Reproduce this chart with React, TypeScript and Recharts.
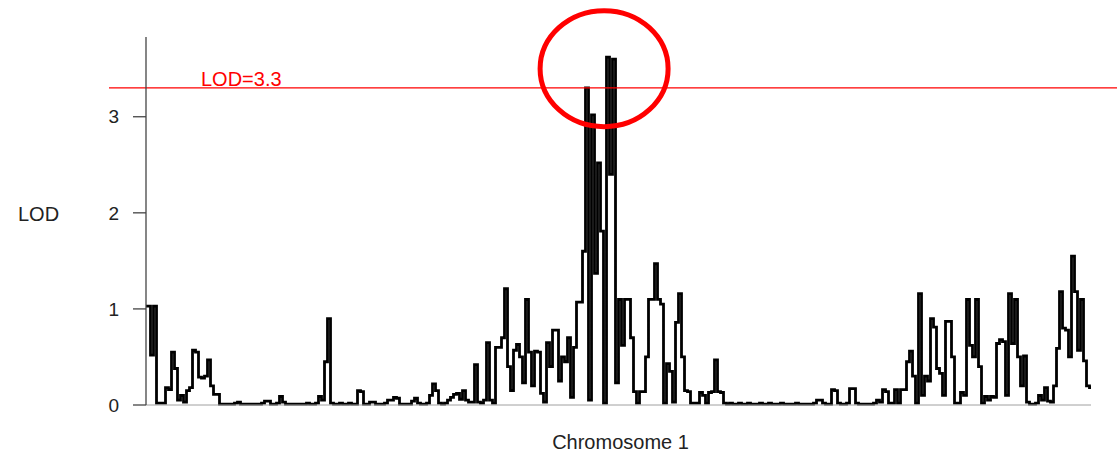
import { Line, LineChart, ReferenceDot, ReferenceLine, XAxis, YAxis } from "recharts";

// LOD profile along chromosome 1, one value per marker step
const lodStart = [
  1.03, 1.03, 0.52, 1.03, 0.02, 0.02, 0.02, 0.18, 0.16, 0.55,
  0.38, 0.05, 0.1, 0.03, 0.15, 0.18, 0.57, 0.55, 0.29, 0.28,
  0.3, 0.47, 0.2, 0.11, 0.11, 0.01, 0.01, 0.01, 0.01, 0.01,
  0.02, 0.03, 0.01, 0.01, 0.01, 0.01, 0.01, 0.01, 0.01, 0.02,
  0.04, 0.04, 0.01, 0.01, 0.02, 0.09, 0.03, 0.01, 0.01, 0.01,
  0.01, 0.01, 0.01, 0.01, 0.02, 0.01, 0.01, 0.02, 0.09, 0.05,
  0.45, 0.9, 0.02, 0.01, 0.01, 0.02, 0.01, 0.01, 0.02, 0.01,
  0.01, 0.15, 0.14, 0.01, 0.01, 0.03, 0.03, 0.01, 0.01, 0.01,
  0.02, 0.05, 0.05, 0.08, 0.07, 0.01, 0.01, 0.01, 0.01, 0.04,
  0.07, 0.02, 0.01, 0.01, 0.02, 0.1, 0.22, 0.15, 0.02, 0.01,
];

const lodPeak = [
  0.02, 0.05, 0.08, 0.11, 0.12, 0.06, 0.15, 0.05, 0.03, 0.03,
  0.42, 0.03, 0.02, 0.05, 0.65, 0.05, 0.02, 0.6, 0.6, 0.7,
  1.21, 0.4, 0.15, 0.57, 0.63, 0.5, 0.23, 1.1, 0.55, 0.2,
  0.56, 0.55, 0.12, 0.03, 0.65, 0.4, 0.78, 0.78, 0.25, 0.5,
  0.45, 0.7, 0.08, 0.6, 1.07, 1.07, 1.6, 3.3, 0.05, 3.02,
  1.37, 2.52, 1.81, 0.02, 3.62, 2.4, 3.6, 0.23, 1.1, 0.62,
  1.1, 1.1, 0.7, 0.14, 0.02, 0.14, 0.14, 0.5, 1.1, 1.1,
  1.47, 1.1, 1.05, 0.02, 0.43, 0.35, 0.03, 0.86, 1.16, 0.5,
  0.15, 0.14, 0.02, 0.02, 0.02, 0.13, 0.1, 0.02, 0.13, 0.14,
  0.47, 0.14, 0.13, 0.02, 0.01, 0.02, 0.01, 0.01, 0.02, 0.01,
];

const lodFlat = [
  0.01, 0.02, 0.01, 0.01, 0.01, 0.02, 0.01, 0.01, 0.02, 0.01,
  0.01, 0.01, 0.02, 0.01, 0.01, 0.01, 0.01, 0.02, 0.01, 0.01,
  0.01, 0.01, 0.01, 0.02, 0.05, 0.05, 0.02, 0.01, 0.01, 0.16,
  0.15, 0.02, 0.01, 0.01, 0.02, 0.17, 0.17, 0.02, 0.01, 0.01,
  0.01, 0.01, 0.01, 0.02, 0.05, 0.03, 0.16, 0.14, 0.02, 0.02,
];

const lodEnd = [
  0.16, 0.02, 0.16, 0.16, 0.45, 0.56, 0.3, 0.02, 1.16, 0.1,
  0.3, 0.25, 0.9, 0.81, 0.38, 0.33, 0.1, 0.87, 0.87, 0.5,
  0.02, 0.02, 0.13, 0.1, 1.1, 0.62, 0.5, 1.1, 0.4, 0.02,
  0.09, 0.05, 0.09, 0.08, 0.64, 0.68, 0.66, 0.1, 1.16, 0.64,
  1.1, 0.5, 0.2, 0.51, 0.03, 0.01, 0.01, 0.02, 0.1, 0.05,
  0.18, 0.04, 0.03, 0.2, 0.59, 1.18, 0.8, 0.78, 0.5, 1.55,
  1.18, 0.57, 1.1, 0.46, 0.2, 0.18,
];

const yTicks = [0, 1, 2, 3];
const threshold = 3.3;
const thresholdLabel = "LOD=3.3";
// highlighted QTL region (marker index, LOD)
const peakMarker = 152.7;
const peakLod = 3.5;

const lod = [...lodStart, ...lodPeak, ...lodFlat, ...lodEnd];
const data = lod.map((v, i) => ({ marker: i, lod: v }));

const FONT = "'Liberation Sans', Arial, Helvetica, sans-serif";

function ThresholdLine(props: any) {
  const { x1, y1, x2, y2 } = props;
  return (
    <g>
      <line x1={x1 - 37} y1={y1} x2={x2 + 26} y2={y2} stroke="#ff0000" strokeWidth={1.2} />
      <text x={x1 + 55} y={y1 - 2} fill="#ff0000" fontSize={20} fontFamily={FONT}>
        {thresholdLabel}
      </text>
    </g>
  );
}

function PeakCircle(props: any) {
  const { cx, cy } = props;
  return <ellipse cx={cx} cy={cy} rx={64} ry={58} fill="none" stroke="#ff0000" strokeWidth={5} />;
}

export default function App() {
  return (
    <div
      style={{
        position: "absolute",
        left: 0,
        top: 0,
        width: 1117,
        height: 453,
        background: "#fff",
        fontFamily: FONT,
      }}
    >
      <LineChart
        width={1117}
        height={453}
        data={data}
        margin={{ top: 37, right: 26, left: 0, bottom: 0 }}
      >
        <XAxis
          type="number"
          dataKey="marker"
          domain={[0, lod.length - 1]}
          tick={false}
          tickLine={false}
          axisLine={{ stroke: "#a0a0a0", strokeWidth: 1 }}
          height={48}
          label={{
            value: "Chromosome 1",
            position: "insideBottom",
            offset: 4,
            dx: 2,
            style: { fill: "#222", fontSize: 20, fontFamily: FONT },
          }}
        />
        <YAxis
          type="number"
          domain={[0, 3.83]}
          ticks={yTicks}
          width={146}
          tickSize={13}
          tickMargin={14}
          axisLine={{ stroke: "#444", strokeWidth: 1.3 }}
          tickLine={{ stroke: "#444", strokeWidth: 1.3 }}
          tick={{ fill: "#222", fontSize: 19, fontFamily: FONT }}
          label={{
            value: "LOD",
            position: "insideLeft",
            offset: 18,
            dy: -7,
            style: { fill: "#222", fontSize: 20, fontFamily: FONT },
          }}
        />
        <Line
          type="step"
          dataKey="lod"
          stroke="#000"
          strokeWidth={2.8}
          dot={false}
          activeDot={false}
          isAnimationActive={false}
        />
        <ReferenceLine y={threshold} ifOverflow="visible" shape={ThresholdLine} />
        <ReferenceDot x={peakMarker} y={peakLod} ifOverflow="visible" shape={PeakCircle} />
      </LineChart>
    </div>
  );
}
